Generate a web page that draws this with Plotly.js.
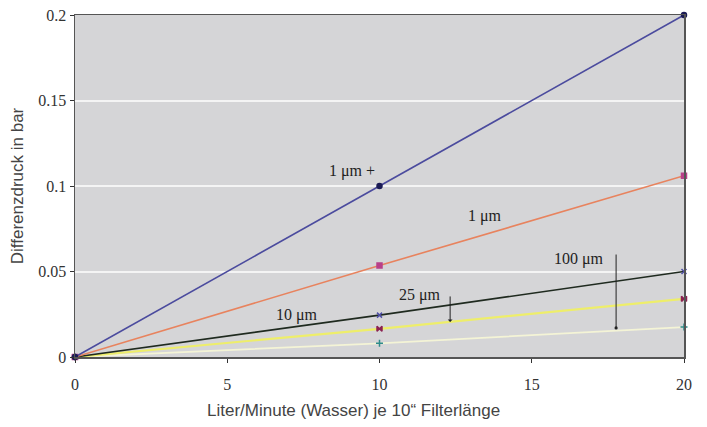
<!DOCTYPE html>
<html>
<head>
<meta charset="utf-8">
<script src="https://cdn.plot.ly/plotly-3.0.1.min.js"></script>
<style>html,body{margin:0;padding:0;background:#fff;}#chart{width:707px;height:427px;}</style>
</head>
<body>
<div id="chart"></div>
<script>
const flow = [0, 10, 20];
const s1plus = [0, 0.100, 0.200];
const s1 = [0, 0.0535, 0.106];
const s10 = [0, 0.0245, 0.050];
const s25 = [0, 0.0165, 0.034];
const s100 = [0, 0.008, 0.0175];
const seriesNames = ['1 µm +', '1 µm', '10 µm', '25 µm', '100 µm'];
const labelX = [9.10, 13.46, 7.29, 11.33, 16.55];
const labelY = [0.1088, 0.0825, 0.0246, 0.0363, 0.0573];
const xTicks = [0, 5, 10, 15, 20];
const yTicks = [0, 0.05, 0.1, 0.15, 0.2];
const yTickText = ['0', '0.05', '0.1', '0.15', '0.2'];
const xTitle = 'Liter/Minute (Wasser) je 10“ Filterlänge';
const yTitle = 'Differenzdruck in bar';
// arrows for 25 µm and 100 µm: [x, yStart, yEnd]
const arrow25 = [12.32, 0.0363, 0.0205];
const arrow100 = [17.77, 0.0608, 0.0170];

const vals = [s1plus, s1, s10, s25, s100];
const lineColors = ['#4B4B9E', '#E8835E', '#1F2A1F', '#EEEE6A', '#F4F4D6'];
const markerColors = ['#1B1B55', '#B8408A', '#5050A8', '#8B2252', '#2E8B8B'];
const symbols = ['circle', 'square', 'x-thin-open', 'bowtie', 'cross-thin-open'];
const widths = [1.6, 1.6, 1.6, 2.2, 1.8];

const traces = [];
for (let i = vals.length - 1; i >= 0; i--) {
  traces.push({
    x: flow, y: vals[i], name: seriesNames[i], type: 'scatter', mode: 'lines+markers',
    line: {color: lineColors[i], width: widths[i]},
    marker: {symbol: symbols[i], size: 5, color: markerColors[i], line: {color: markerColors[i], width: 1.5}},
    showlegend: false, cliponaxis: false
  });
}

const annotations = seriesNames.map((n, i) => ({
  x: labelX[i], y: labelY[i], xref: 'x', yref: 'y', text: n.replace('µ', 'μ'), showarrow: false,
  font: {family: 'Liberation Serif, Times New Roman, serif', size: 16, color: '#222'}
}));
[arrow25, arrow100].forEach((a, k) => {
  annotations.push({
    x: a[0], y: a[2], ax: a[0], ay: a[1], xref: 'x', yref: 'y', axref: 'x', ayref: 'y',
    text: '', showarrow: true, arrowhead: k === 0 ? 1 : 6, arrowsize: 0.8, arrowwidth: 1, arrowcolor: '#222'
  });
});
// x-axis title (placed slightly left of plot centre, as in the original)
annotations.push({
  x: 0.458, y: -0.155, xref: 'paper', yref: 'paper', text: xTitle, showarrow: false,
  xanchor: 'center', yanchor: 'middle',
  font: {family: 'Liberation Sans, Arial, sans-serif', size: 17, color: '#444'}
});

const layout = {
  width: 707, height: 427,
  margin: {l: 75, r: 23, t: 15, b: 70},
  paper_bgcolor: '#ffffff', plot_bgcolor: '#D5D5D7',
  showlegend: false,
  xaxis: {
    range: [0, 20], tickvals: xTicks, ticktext: xTicks.map(String),
    showgrid: false, zeroline: false, showline: true, mirror: true, linecolor: '#555', linewidth: 1.5,
    ticks: 'outside', ticklen: 4, tickcolor: '#333', ticklabelstandoff: 8,
    tickfont: {family: 'Liberation Serif, Times New Roman, serif', size: 16, color: '#333'}
  },
  yaxis: {
    range: [0, 0.2], tickvals: yTicks, ticktext: yTickText,
    showgrid: true, gridcolor: '#F4F4F4', gridwidth: 2, zeroline: false,
    showline: true, mirror: true, linecolor: '#555', linewidth: 1.5,
    ticks: 'outside', ticklen: 4, tickcolor: '#333', ticklabelstandoff: 0,
    tickfont: {family: 'Liberation Serif, Times New Roman, serif', size: 16, color: '#333'},
    title: {text: yTitle, standoff: 10,
      font: {family: 'Liberation Sans, Arial, sans-serif', size: 17, color: '#444'}}
  },
  annotations: annotations
};

Plotly.newPlot('chart', traces, layout, {displayModeBar: false, staticPlot: true});
</script>
</body>
</html>
